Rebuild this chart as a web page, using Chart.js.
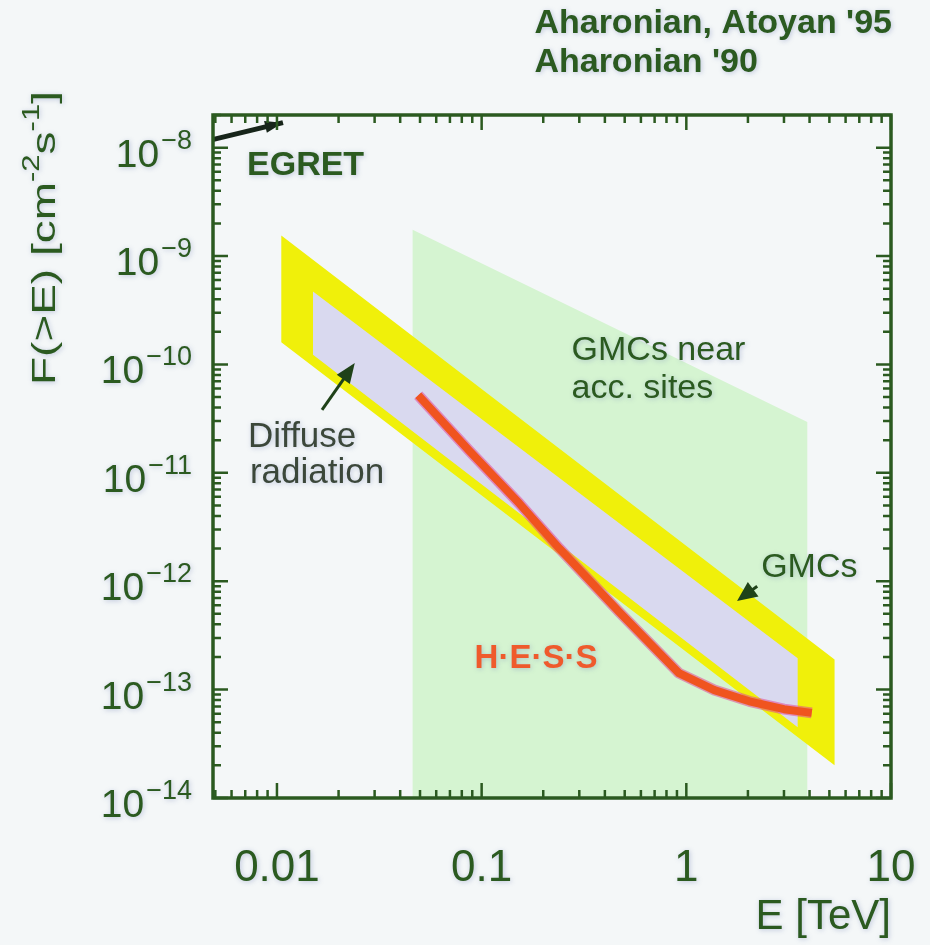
<!DOCTYPE html>
<html>
<head>
<meta charset="utf-8">
<script src="https://cdn.jsdelivr.net/npm/chart.js@4.4.0/dist/chart.umd.min.js"></script>
<style>
  html, body { margin: 0; padding: 0; background: #f4f7f8; }
  canvas { display: block; }
</style>
</head>
<body>
<canvas id="chart" width="930" height="945"></canvas>
<script>
// Integral gamma-ray flux F(>E) [cm^-2 s^-1] versus energy E [TeV]

// EGRET flux level (arrow from the left edge)
const egretE = [0.0049, 0.0107];
const egretF = [1.19e-8, 1.70e-8];

// GMCs near acceleration sites (green region)
const accSitesE = [0.046, 3.9, 3.9, 0.046];
const accSitesF = [1.75e-9, 2.95e-11, 1e-14, 1e-14];

// GMCs band (yellow)
const gmcE = [0.0105, 5.3, 5.3, 0.0105];
const gmcF = [1.55e-9, 1.9e-13, 2.0e-14, 1.6e-10];

// Diffuse radiation band (lavender)
const diffuseE = [0.015, 3.5, 3.5, 0.015];
const diffuseF = [4.7e-10, 1.95e-13, 4.5e-14, 1.23e-10];

// H.E.S.S. sensitivity curve
const hessE = [0.049, 0.087, 0.153, 0.24, 0.47, 0.92, 1.37, 2.03, 3.0, 4.1];
const hessF = [5.2e-11, 1.6e-11, 5.2e-12, 2.0e-12, 5.2e-13, 1.42e-13, 9.9e-14, 7.8e-14, 6.6e-14, 6.1e-14];

// Axis ticks
const xTickValues = [0.01, 0.1, 1, 10];
const xTickLabels = ['0.01', '0.1', '1', '10'];
const yTickExponents = [-8, -9, -10, -11, -12, -13, -14];

const titleLines = ["Aharonian, Atoyan '95", "Aharonian '90"];

const FONT = "'Liberation Sans', Arial, Helvetica, sans-serif";
const INK = '#2b5a20';
const HALO = 'rgba(120,135,185,0.45)';

// Text annotations placed in data coordinates
const notes = [
  { text: 'EGRET', e: 0.00714, f: 5.63e-9, font: 'bold 34px', color: INK },
  { text: 'GMCs near', e: 0.275, f: 1.10e-10, font: '34px', color: INK },
  { text: 'acc. sites', e: 0.275, f: 4.92e-11, font: '34px', color: INK },
  { text: 'Diffuse', e: 0.00722, f: 1.73e-11, font: '35px', color: '#3b473a' },
  { text: 'radiation', e: 0.00738, f: 8.07e-12, font: '35px', color: '#3b473a' },
  { text: 'GMCs', e: 2.32, f: 1.09e-12, font: '34px', color: INK },
  { text: 'H\u00B7E\u00B7S\u00B7S', e: 0.0924, f: 1.58e-13, font: 'bold 33px', color: '#ef5a2c' }
];

// Pointer arrows (tail -> tip) in data coordinates
const pointers = [
  { from: [0.0166, 3.81e-11], to: [0.024, 1.03e-10], width: 3, len: 20, half: 8, color: '#1f4219' },
  { from: [2.22, 9.0e-13], to: [1.77, 6.56e-13], width: 3, len: 20, half: 9, color: '#1f4219' }
];

const pts = (xs, ys) => xs.map((x, i) => ({ x: x, y: ys[i] }));

function arrowHead(ctx, x0, y0, x1, y1, len, half) {
  const a = Math.atan2(y1 - y0, x1 - x0);
  const bx = x1 - len * Math.cos(a), by = y1 - len * Math.sin(a);
  ctx.beginPath();
  ctx.moveTo(x1, y1);
  ctx.lineTo(bx + half * Math.sin(a), by - half * Math.cos(a));
  ctx.lineTo(bx - half * Math.sin(a), by + half * Math.cos(a));
  ctx.closePath();
  ctx.fill();
}

function logTicks(min, max) {
  const out = [];
  for (let k = Math.floor(Math.log10(min)) - 1; k <= Math.ceil(Math.log10(max)); k++) {
    for (let m = 1; m <= 9; m++) {
      const v = m * Math.pow(10, k);
      if (v >= min * 0.999 && v <= max * 1.001) out.push({ v: v, major: m === 1 });
    }
  }
  return out;
}

function setHalo(ctx, on) {
  ctx.shadowColor = on ? HALO : 'rgba(0,0,0,0)';
  ctx.shadowBlur = on ? 5 : 0;
  ctx.shadowOffsetX = on ? 1 : 0;
  ctx.shadowOffsetY = on ? 1 : 0;
}

const decor = {
  id: 'decor',
  beforeDraw(chart) {
    const ctx = chart.ctx;
    ctx.save();
    ctx.fillStyle = '#f4f7f8';
    ctx.fillRect(0, 0, chart.width, chart.height);
    ctx.restore();
    setHalo(ctx, true);
  },
  beforeDatasetsDraw(chart) {
    setHalo(chart.ctx, false);
  },
  afterDatasetsDraw(chart) {
    const ctx = chart.ctx;
    const xs = chart.scales.x, ys = chart.scales.y;
    const area = chart.chartArea;
    const px = v => xs.getPixelForValue(v);
    const py = v => ys.getPixelForValue(v);

    ctx.save();
    setHalo(ctx, false);

    // EGRET arrowhead at the end of its line
    const n = egretE.length;
    ctx.fillStyle = '#17251a';
    arrowHead(ctx, px(egretE[n - 2]), py(egretF[n - 2]), px(egretE[n - 1]), py(egretF[n - 1]), 18, 6);

    // pointer arrows
    pointers.forEach(p => {
      const x0 = px(p.from[0]), y0 = py(p.from[1]);
      const x1 = px(p.to[0]), y1 = py(p.to[1]);
      const a = Math.atan2(y1 - y0, x1 - x0);
      ctx.strokeStyle = p.color;
      ctx.fillStyle = p.color;
      ctx.lineWidth = p.width;
      ctx.beginPath();
      ctx.moveTo(x0, y0);
      ctx.lineTo(x1 - (p.len - 2) * Math.cos(a), y1 - (p.len - 2) * Math.sin(a));
      ctx.stroke();
      arrowHead(ctx, x0, y0, x1, y1, p.len, p.half);
    });

    // frame
    ctx.strokeStyle = INK;
    ctx.lineWidth = 3.5;
    ctx.strokeRect(area.left, area.top, area.right - area.left, area.bottom - area.top);

    // inward ticks on all four sides
    ctx.lineWidth = 2.5;
    ctx.beginPath();
    logTicks(xs.min, xs.max).forEach(t => {
      const x = px(t.v);
      const L = t.major ? 15 : 8;
      ctx.moveTo(x, area.bottom); ctx.lineTo(x, area.bottom - L);
      ctx.moveTo(x, area.top); ctx.lineTo(x, area.top + L);
    });
    logTicks(ys.min, ys.max).forEach(t => {
      const y = py(t.v);
      const L = t.major ? 15 : 8;
      ctx.moveTo(area.left, y); ctx.lineTo(area.left + L, y);
      ctx.moveTo(area.right, y); ctx.lineTo(area.right - L, y);
    });
    ctx.stroke();

    setHalo(ctx, true);

    // y tick labels as powers of ten
    ctx.fillStyle = INK;
    ctx.textBaseline = 'alphabetic';
    yTickExponents.forEach(e => {
      const y = py(Math.pow(10, e));
      const sup = '\u2212' + Math.abs(e);
      ctx.font = '27px ' + FONT;
      ctx.textAlign = 'right';
      const sw = ctx.measureText(sup).width;
      ctx.fillText(sup, 192, y + 1);
      ctx.font = '39px ' + FONT;
      ctx.fillText('10', 192 - sw - 2, y + 19);
    });

    // y axis title, rotated, with superscripts
    const runs = [
      { t: 'F(>E) [cm', sup: false }, { t: '-2', sup: true },
      { t: 's', sup: false }, { t: '-1', sup: true }, { t: ']', sup: false }
    ];
    const mainFont = '34px ' + FONT, supFont = '23px ' + FONT;
    let natural = 0;
    runs.forEach(r => { ctx.font = r.sup ? supFont : mainFont; natural += ctx.measureText(r.t).width; });
    ctx.save();
    ctx.translate(55, 385);
    ctx.rotate(-Math.PI / 2);
    ctx.scale(294 / natural, 1);
    ctx.textAlign = 'left';
    let cx = 0;
    runs.forEach(r => {
      ctx.font = r.sup ? supFont : mainFont;
      ctx.fillText(r.t, cx, r.sup ? -16 : 0);
      cx += ctx.measureText(r.t).width;
    });
    ctx.restore();

    // annotations
    ctx.textAlign = 'left';
    notes.forEach(nt => {
      ctx.font = nt.font + ' ' + FONT;
      ctx.fillStyle = nt.color;
      ctx.fillText(nt.text, px(nt.e), py(nt.f));
    });

    // references, top right
    ctx.font = 'bold 34px ' + FONT;
    ctx.fillStyle = INK;
    const w1 = ctx.measureText(titleLines[0]).width;
    const left = 892 - w1;
    ctx.fillText(titleLines[0], left, 33);
    ctx.fillText(titleLines[1], left, 72);

    ctx.restore();
  }
};

const common = { showLine: true, pointRadius: 0, pointHoverRadius: 0, tension: 0 };

new Chart(document.getElementById('chart'), {
  type: 'scatter',
  data: {
    datasets: [
      Object.assign({}, common, {
        label: 'EGRET', data: pts(egretE, egretF),
        borderColor: '#17251a', borderWidth: 5, order: 0
      }),
      Object.assign({}, common, {
        label: 'H.E.S.S.', data: pts(hessE, hessF),
        borderColor: '#f0541f', borderWidth: 8, borderCapStyle: 'butt', borderJoinStyle: 'round', order: 1
      }),
      Object.assign({}, common, {
        label: 'H.E.S.S. rim', data: pts(hessE, hessF),
        borderColor: 'rgba(226,70,150,0.55)', borderWidth: 11, borderJoinStyle: 'round', order: 2
      }),
      Object.assign({}, common, {
        label: 'Diffuse radiation', data: pts(diffuseE, diffuseF),
        fill: 'shape', backgroundColor: '#d9d9ef', borderColor: 'rgba(0,0,0,0)', borderWidth: 0, order: 3
      }),
      Object.assign({}, common, {
        label: 'GMCs', data: pts(gmcE, gmcF),
        fill: 'shape', backgroundColor: '#f0f00a', borderColor: 'rgba(0,0,0,0)', borderWidth: 0, order: 4
      }),
      Object.assign({}, common, {
        label: 'GMCs near acc. sites', data: pts(accSitesE, accSitesF),
        fill: 'shape', backgroundColor: '#d5f4d1', borderColor: 'rgba(0,0,0,0)', borderWidth: 0, order: 5
      })
    ]
  },
  options: {
    responsive: false,
    animation: false,
    events: [],
    layout: { padding: { top: 115, right: 39, left: 0, bottom: 0 } },
    plugins: { legend: { display: false }, tooltip: { enabled: false } },
    scales: {
      x: {
        type: 'logarithmic', min: 0.00487, max: 10,
        grid: { display: false, drawTicks: false },
        border: { display: false },
        afterBuildTicks: s => { s.ticks = xTickValues.map(v => ({ value: v })); },
        afterFit: s => { s.height = 147; s.paddingLeft = 0; s.paddingRight = 0; },
        ticks: {
          autoSkip: false, maxRotation: 0, padding: 44,
          color: INK, font: { family: FONT, size: 44 },
          callback: (v, i) => xTickLabels[i]
        },
        title: {
          display: true, text: 'E [TeV]', align: 'end', color: INK,
          font: { family: FONT, size: 42 }, padding: { top: 0, bottom: 2 }
        }
      },
      y: {
        type: 'logarithmic', min: 1e-14, max: 2e-8,
        grid: { display: false, drawTicks: false },
        border: { display: false },
        ticks: { display: false },
        afterFit: s => { s.width = 213; s.paddingTop = 0; s.paddingBottom = 0; }
      }
    }
  },
  plugins: [decor]
});
</script>
</body>
</html>
